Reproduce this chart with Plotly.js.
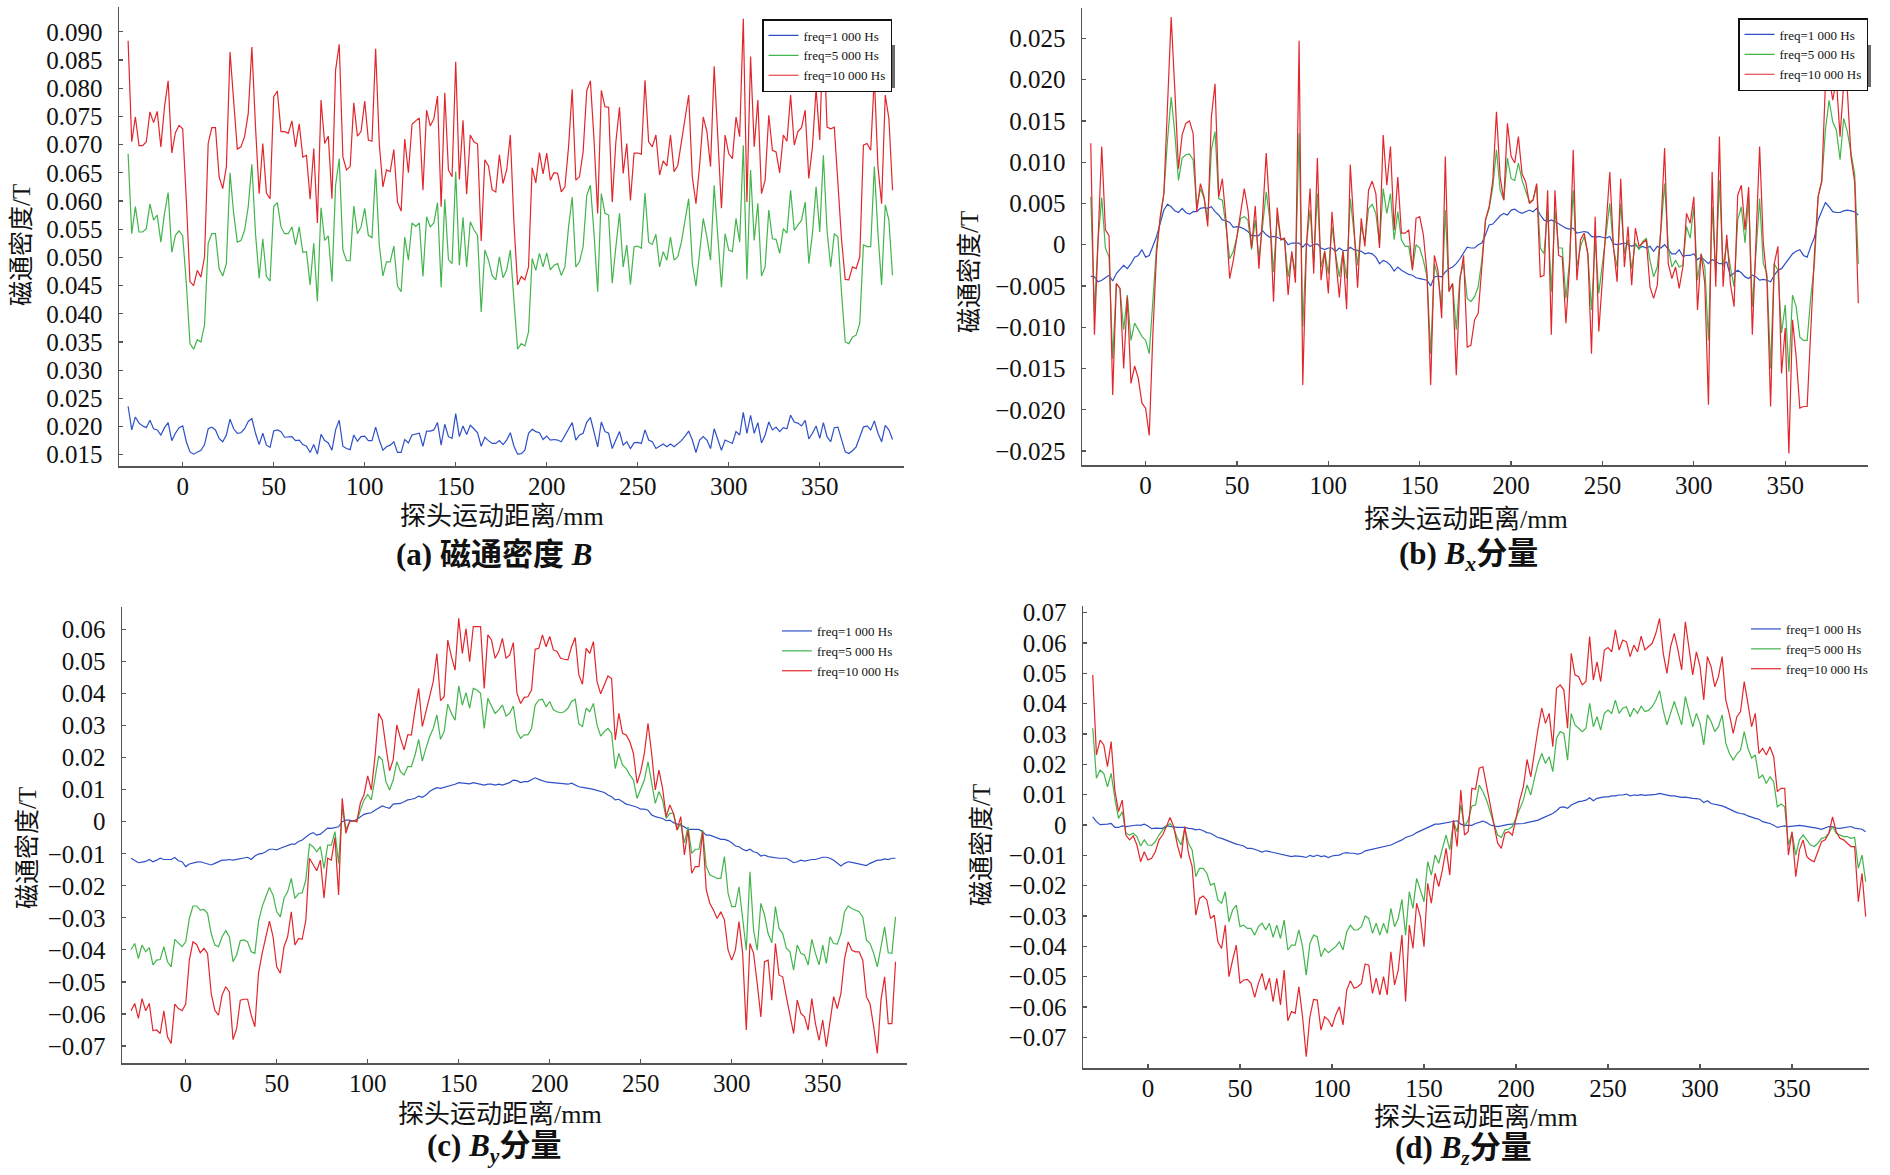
<!DOCTYPE html>
<html>
<head>
<meta charset="utf-8">
<script src="https://cdn.plot.ly/plotly-3.0.1.min.js"></script>
<style>html,body{margin:0;padding:0;background:#fff;}#chart{width:1890px;height:1175px;}</style>
</head>
<body>
<div id="chart"></div>
<script>
// probe travel distance (mm)
const xMm = [-30,-28,-26,-24,-22,-20,-18,-16,-14,-12,-10,-8,-6,-4,-2,0,2,4,6,8,10,12,14,16,18,20,22,24,26,28,30,32,34,36,38,40,42,44,46,48,50,52,54,56,58,60,62,64,66,68,70,72,74,76,78,80,82,84,86,88,90,92,94,96,98,100,102,104,106,108,110,112,114,116,118,120,122,124,126,128,130,132,134,136,138,140,142,144,146,148,150,152,154,156,158,160,162,164,166,168,170,172,174,176,178,180,182,184,186,188,190,192,194,196,198,200,202,204,206,208,210,212,214,216,218,220,222,224,226,228,230,232,234,236,238,240,242,244,246,248,250,252,254,256,258,260,262,264,266,268,270,272,274,276,278,280,282,284,286,288,290,292,294,296,298,300,302,304,306,308,310,312,314,316,318,320,322,324,326,328,330,332,334,336,338,340,342,344,346,348,350,352,354,356,358,360,362,364,366,368,370,372,374,376,378,380,382,384,386,388,390];

// (a) flux density B (T)
const aBlue = [0.0236,0.0194,0.0217,0.0206,0.0201,0.0198,0.0211,0.0196,0.0194,0.0185,
0.0198,0.0207,0.0175,0.0188,0.0198,0.0201,0.0173,0.0155,0.0151,0.0154,
0.0158,0.0168,0.0196,0.0199,0.0194,0.0179,0.0173,0.0185,0.0213,0.0196,
0.0188,0.0189,0.0196,0.0209,0.0214,0.0188,0.0168,0.0188,0.0167,0.0163,
0.0192,0.0194,0.0191,0.0181,0.0181,0.0182,0.0175,0.0176,0.0168,0.0165,
0.0154,0.0168,0.0151,0.0186,0.0175,0.0171,0.0158,0.0194,0.0211,0.0165,
0.0161,0.0159,0.0185,0.0174,0.0182,0.0183,0.0175,0.0175,0.0199,0.0176,
0.0158,0.0164,0.0167,0.0173,0.0154,0.0154,0.0177,0.0171,0.0185,0.0186,
0.0188,0.0165,0.0192,0.0192,0.0194,0.0207,0.0167,0.0204,0.0182,0.0179,
0.0223,0.0182,0.0201,0.0186,0.0202,0.0196,0.0189,0.0165,0.0181,0.0175,
0.0170,0.0170,0.0175,0.0168,0.0176,0.0189,0.0165,
0.0151,0.0152,0.0158,0.0188,0.0195,0.0191,0.0189,0.0177,0.0183,0.0176,
0.0177,0.0176,0.0173,0.0185,0.0195,0.0207,0.0176,0.0185,0.0188,0.0208,
0.0216,0.0191,0.0164,0.0208,0.0191,0.0188,0.0161,0.0176,0.0191,0.0167,
0.0173,0.0161,0.0171,0.0172,0.0170,0.0194,0.0176,0.0173,0.0161,0.0165,
0.0169,0.0164,0.0169,0.0164,0.0169,0.0175,0.0183,0.0192,0.0176,0.0154,
0.0176,0.0182,0.0176,0.0161,0.0196,0.0176,0.0158,0.0176,0.0173,0.0170,
0.0191,0.0185,0.0225,0.0188,0.0220,0.0188,0.0207,0.0171,0.0185,0.0208,
0.0194,0.0199,0.0191,0.0198,0.0196,0.0220,0.0208,0.0206,0.0201,0.0211,
0.0178,0.0188,0.0201,0.0179,0.0207,0.0182,0.0173,0.0198,0.0199,0.0176,
0.0155,0.0152,0.0157,0.0164,0.0183,0.0199,0.0201,0.0194,0.0210,0.0188,
0.0173,0.0202,0.0194,0.0177];
const aGreen = [0.0684,0.0542,0.0590,0.0545,0.0545,0.0551,0.0595,0.0566,0.0575,0.0527,
0.0578,0.0615,0.0509,0.0539,0.0547,0.0538,0.0454,0.0347,0.0337,0.0354,
0.0350,0.0380,0.0525,0.0542,0.0542,0.0480,0.0467,0.0489,0.0650,0.0578,
0.0527,0.0530,0.0548,0.0590,0.0665,0.0542,0.0463,0.0533,0.0466,0.0458,
0.0590,0.0597,0.0554,0.0542,0.0542,0.0554,0.0522,0.0554,0.0509,0.0510,
0.0451,0.0525,0.0422,0.0588,0.0530,0.0538,0.0457,0.0628,0.0675,0.0513,
0.0494,0.0494,0.0591,0.0542,0.0554,0.0587,0.0539,0.0535,0.0656,0.0522,
0.0467,0.0492,0.0492,0.0520,0.0449,0.0439,0.0536,0.0495,0.0561,0.0555,
0.0561,0.0466,0.0572,0.0554,0.0561,0.0597,0.0447,0.0603,0.0496,0.0489,
0.0652,0.0486,0.0571,0.0483,0.0563,0.0549,0.0539,0.0403,0.0513,0.0495,
0.0468,0.0460,0.0501,0.0464,0.0478,0.0513,0.0424,
0.0337,0.0347,0.0343,0.0368,0.0498,0.0477,0.0507,0.0483,0.0508,0.0478,
0.0486,0.0489,0.0468,0.0483,0.0554,0.0607,0.0483,0.0492,0.0519,0.0610,
0.0628,0.0542,0.0439,0.0613,0.0578,0.0575,0.0454,0.0519,0.0578,0.0483,
0.0522,0.0452,0.0519,0.0520,0.0516,0.0614,0.0527,0.0523,0.0541,0.0483,
0.0510,0.0495,0.0536,0.0495,0.0501,0.0527,0.0566,0.0604,0.0489,0.0449,
0.0508,0.0569,0.0536,0.0495,0.0628,0.0542,0.0447,0.0542,0.0513,0.0510,
0.0569,0.0527,0.0699,0.0461,0.0655,0.0530,0.0596,0.0467,0.0483,0.0584,
0.0533,0.0532,0.0507,0.0551,0.0543,0.0619,0.0548,0.0557,0.0566,0.0598,
0.0489,0.0542,0.0625,0.0545,0.0681,0.0548,0.0483,0.0542,0.0536,0.0436,
0.0350,0.0347,0.0359,0.0362,0.0383,0.0522,0.0519,0.0519,0.0661,0.0542,
0.0451,0.0593,0.0566,0.0468];
const aRed = [0.0884,0.0705,0.0749,0.0698,0.0698,0.0705,0.0758,0.0739,0.0759,0.0696,
0.0767,0.0813,0.0685,0.0721,0.0734,0.0728,0.0601,0.0457,0.0450,0.0477,
0.0465,0.0501,0.0702,0.0730,0.0730,0.0643,0.0622,0.0661,0.0864,0.0779,
0.0692,0.0696,0.0714,0.0755,0.0873,0.0731,0.0613,0.0702,0.0614,0.0604,
0.0785,0.0795,0.0723,0.0723,0.0720,0.0742,0.0696,0.0737,0.0678,0.0681,
0.0603,0.0693,0.0561,0.0779,0.0702,0.0715,0.0604,0.0832,0.0878,0.0678,
0.0655,0.0661,0.0774,0.0715,0.0723,0.0777,0.0708,0.0706,0.0870,0.0702,
0.0625,0.0655,0.0652,0.0691,0.0598,0.0582,0.0710,0.0650,0.0736,0.0742,
0.0747,0.0619,0.0761,0.0733,0.0746,0.0786,0.0590,0.0792,0.0655,0.0643,
0.0847,0.0638,0.0743,0.0612,0.0717,0.0705,0.0701,0.0529,0.0673,0.0662,
0.0620,0.0616,0.0682,0.0631,0.0655,0.0717,0.0560,
0.0451,0.0466,0.0460,0.0483,0.0659,0.0632,0.0686,0.0648,0.0685,0.0637,
0.0650,0.0649,0.0616,0.0625,0.0696,0.0798,0.0637,0.0643,0.0687,0.0796,
0.0813,0.0708,0.0578,0.0796,0.0767,0.0766,0.0598,0.0705,0.0766,0.0649,
0.0702,0.0601,0.0685,0.0685,0.0683,0.0814,0.0705,0.0696,0.0717,0.0646,
0.0671,0.0662,0.0717,0.0652,0.0663,0.0702,0.0746,0.0788,0.0643,0.0595,
0.0663,0.0749,0.0723,0.0661,0.0839,0.0714,0.0587,0.0717,0.0684,0.0675,
0.0749,0.0714,0.0923,0.0598,0.0856,0.0696,0.0779,0.0613,0.0637,0.0752,
0.0690,0.0687,0.0650,0.0717,0.0706,0.0788,0.0699,0.0723,0.0730,0.0761,
0.0640,0.0696,0.0800,0.0708,0.0915,0.0731,0.0728,0.0731,0.0637,0.0531,
0.0461,0.0460,0.0483,0.0480,0.0501,0.0699,0.0702,0.0690,0.0820,0.0660,
0.0595,0.0788,0.0746,0.0619];

// (b) Bx component (T)
const bBlue = [-0.0038,-0.0039,-0.0045,-0.0043,-0.0040,-0.0037,-0.0044,-0.0035,-0.0030,-0.0025,
-0.0029,-0.0023,-0.0015,-0.0013,-0.0006,-0.0015,-0.0013,-0.0002,0.0010,0.0026,
0.0042,0.0049,0.0046,0.0041,0.0039,0.0044,0.0039,0.0037,0.0040,0.0040,
0.0044,0.0045,0.0044,0.0046,0.0040,0.0036,0.0030,0.0029,0.0027,0.0021,
0.0022,0.0021,0.0019,0.0016,0.0011,0.0011,0.0011,0.0017,0.0012,0.0009,
0.0010,0.0009,0.0007,0.0006,0.0000,0.0002,0.0002,0.0002,-0.0003,0.0002,
-0.0002,0.0000,0.0001,-0.0004,-0.0006,-0.0004,-0.0004,-0.0008,-0.0004,-0.0007,
-0.0007,-0.0003,-0.0006,-0.0007,-0.0008,-0.0011,-0.0010,-0.0011,-0.0015,-0.0023,
-0.0019,-0.0021,-0.0025,-0.0032,-0.0027,-0.0031,-0.0034,-0.0036,-0.0037,-0.0040,
-0.0041,-0.0042,-0.0043,-0.0050,-0.0039,-0.0038,-0.0039,-0.0033,-0.0029,-0.0027,
-0.0023,-0.0017,-0.0010,-0.0003,-0.0004,-0.0004,0.0000,
0.0002,0.0012,0.0024,0.0025,0.0030,0.0035,0.0038,0.0036,0.0042,0.0043,
0.0040,0.0038,0.0040,0.0042,0.0040,0.0044,0.0036,0.0030,0.0028,0.0030,
0.0028,0.0025,0.0022,0.0020,0.0019,0.0020,0.0014,0.0015,0.0016,0.0015,
0.0010,0.0009,0.0010,0.0009,0.0008,0.0010,0.0001,0.0000,0.0001,0.0002,
0.0000,-0.0002,0.0000,-0.0004,-0.0002,-0.0004,-0.0002,-0.0008,-0.0002,-0.0004,
0.0000,-0.0006,-0.0011,-0.0011,-0.0006,-0.0014,-0.0013,-0.0013,-0.0011,-0.0018,
-0.0015,-0.0019,-0.0023,-0.0018,-0.0021,-0.0023,-0.0023,-0.0021,-0.0038,-0.0035,
-0.0031,-0.0034,-0.0039,-0.0041,-0.0037,-0.0039,-0.0043,-0.0042,-0.0043,-0.0045,
-0.0037,-0.0031,-0.0029,-0.0023,-0.0017,-0.0011,-0.0008,-0.0006,-0.0013,-0.0015,
-0.0002,0.0009,0.0030,0.0040,0.0051,0.0046,0.0040,0.0039,0.0039,0.0041,
0.0042,0.0041,0.0040,0.0036];
const bGreen = [0.0058,-0.0081,0.0006,0.0057,-0.0004,-0.0015,-0.0138,-0.0047,-0.0053,-0.0103,
-0.0061,-0.0116,-0.0095,-0.0103,-0.0111,-0.0116,-0.0132,-0.0067,-0.0002,0.0030,
0.0062,0.0127,0.0179,0.0135,0.0078,0.0105,0.0109,0.0110,0.0103,0.0046,
0.0068,0.0056,0.0030,0.0115,0.0137,0.0056,0.0054,0.0022,-0.0017,-0.0008,
0.0010,0.0032,0.0034,0.0030,-0.0006,0.0030,-0.0017,0.0022,0.0064,0.0030,
-0.0033,0.0034,0.0006,0.0006,-0.0039,-0.0011,-0.0033,0.0135,-0.0099,0.0000,
0.0042,-0.0021,0.0062,-0.0027,-0.0008,-0.0035,0.0022,-0.0011,-0.0039,-0.0008,
-0.0041,0.0056,0.0012,-0.0025,0.0022,0.0004,0.0044,0.0049,0.0038,0.0000,
0.0068,0.0038,0.0062,0.0006,0.0040,0.0006,-0.0002,-0.0002,-0.0029,0.0000,
-0.0004,-0.0019,-0.0039,-0.0132,-0.0023,-0.0039,-0.0075,0.0042,-0.0055,-0.0047,
-0.0103,-0.0039,-0.0023,-0.0065,-0.0069,-0.0063,-0.0051,
-0.0019,0.0030,0.0044,0.0070,0.0115,0.0066,0.0054,0.0105,0.0080,0.0078,
0.0099,0.0078,0.0066,0.0052,0.0054,0.0072,-0.0004,-0.0011,0.0042,-0.0057,
0.0042,-0.0004,-0.0004,-0.0065,-0.0019,0.0066,-0.0027,-0.0002,0.0010,-0.0011,
-0.0079,0.0006,-0.0059,-0.0023,0.0014,0.0050,-0.0004,-0.0027,0.0050,-0.0011,
0.0006,-0.0029,0.0002,-0.0006,0.0004,0.0008,-0.0019,-0.0039,-0.0027,0.0018,
0.0074,-0.0002,-0.0027,-0.0019,-0.0027,-0.0025,0.0022,0.0008,0.0046,-0.0043,
-0.0011,-0.0027,-0.0116,0.0046,-0.0035,0.0078,-0.0027,0.0002,-0.0027,-0.0051,
0.0030,0.0046,0.0002,0.0056,-0.0075,-0.0015,0.0056,-0.0023,-0.0035,-0.0150,
-0.0023,-0.0031,-0.0107,-0.0073,-0.0154,-0.0061,-0.0075,-0.0112,-0.0116,-0.0116,
-0.0063,-0.0023,0.0058,0.0076,0.0139,0.0175,0.0149,0.0139,0.0103,0.0153,
0.0137,0.0111,0.0086,-0.0023];
const bRed = [0.0123,-0.0109,0.0006,0.0119,0.0018,0.0011,-0.0182,-0.0047,-0.0053,-0.0150,
-0.0063,-0.0168,-0.0147,-0.0162,-0.0192,-0.0198,-0.0231,-0.0107,-0.0011,0.0034,
0.0062,0.0175,0.0276,0.0187,0.0092,0.0133,0.0147,0.0150,0.0135,0.0040,
0.0074,0.0058,0.0022,0.0155,0.0195,0.0058,0.0080,0.0030,-0.0041,-0.0019,
0.0012,0.0038,0.0068,0.0042,-0.0004,0.0047,-0.0029,0.0034,0.0111,0.0038,
-0.0069,0.0045,0.0006,0.0008,-0.0061,-0.0008,-0.0046,0.0247,-0.0170,-0.0002,
0.0068,-0.0035,0.0105,-0.0043,-0.0008,-0.0059,0.0040,-0.0015,-0.0064,-0.0008,
-0.0078,0.0097,0.0014,-0.0052,0.0032,-0.0002,0.0066,0.0077,0.0062,-0.0004,
0.0133,0.0072,0.0119,0.0018,0.0082,0.0014,0.0014,0.0018,-0.0031,0.0032,
0.0034,0.0012,-0.0035,-0.0170,-0.0013,-0.0031,-0.0089,0.0107,-0.0057,-0.0047,
-0.0158,-0.0043,-0.0013,-0.0124,-0.0122,-0.0091,-0.0083,
-0.0027,0.0030,0.0046,0.0078,0.0161,0.0082,0.0054,0.0147,0.0107,0.0099,
0.0131,0.0086,0.0076,0.0050,0.0054,0.0074,-0.0039,-0.0037,0.0066,-0.0109,
0.0066,-0.0013,-0.0015,-0.0095,-0.0027,0.0115,-0.0043,0.0006,0.0014,-0.0011,
-0.0132,0.0034,-0.0105,-0.0039,0.0022,0.0088,-0.0002,-0.0045,0.0080,-0.0027,
0.0022,-0.0049,0.0020,-0.0002,0.0002,0.0006,-0.0051,-0.0065,-0.0049,0.0022,
0.0117,-0.0023,-0.0041,-0.0027,-0.0053,-0.0027,0.0038,0.0026,0.0058,-0.0079,
-0.0011,-0.0047,-0.0194,0.0088,-0.0051,0.0131,-0.0051,0.0012,-0.0047,-0.0075,
0.0060,0.0072,0.0018,0.0070,-0.0109,0.0006,0.0119,0.0002,-0.0043,-0.0196,
-0.0023,-0.0002,-0.0156,-0.0101,-0.0253,-0.0091,-0.0136,-0.0198,-0.0196,-0.0196,
-0.0107,-0.0011,0.0058,0.0078,0.0195,0.0205,0.0175,0.0200,0.0131,0.0195,
0.0187,0.0107,0.0076,-0.0071];

// (c) By component (T)
const cBlue = [-0.0114,-0.0120,-0.0128,-0.0126,-0.0124,-0.0118,-0.0125,-0.0120,-0.0114,-0.0118,
-0.0118,-0.0118,-0.0112,-0.0122,-0.0125,-0.0140,-0.0132,-0.0128,-0.0126,-0.0125,
-0.0128,-0.0132,-0.0135,-0.0130,-0.0125,-0.0120,-0.0120,-0.0118,-0.0120,-0.0118,
-0.0114,-0.0112,-0.0111,-0.0118,-0.0107,-0.0101,-0.0099,-0.0094,-0.0086,-0.0086,
-0.0088,-0.0083,-0.0078,-0.0073,-0.0070,-0.0070,-0.0062,-0.0057,-0.0049,-0.0039,
-0.0034,-0.0042,-0.0039,-0.0029,-0.0020,-0.0021,-0.0018,-0.0016,0.0000,0.0005,
0.0005,0.0002,0.0007,0.0016,0.0023,0.0026,0.0028,0.0036,0.0042,0.0049,
0.0045,0.0042,0.0055,0.0057,0.0057,0.0062,0.0068,0.0070,0.0073,0.0080,
0.0076,0.0083,0.0094,0.0101,0.0106,0.0104,0.0107,0.0109,0.0114,0.0117,
0.0122,0.0120,0.0120,0.0118,0.0122,0.0120,0.0118,0.0114,0.0117,0.0117,
0.0114,0.0117,0.0114,0.0118,0.0122,0.0130,0.0128,
0.0122,0.0125,0.0125,0.0130,0.0137,0.0132,0.0127,0.0124,0.0123,0.0122,
0.0120,0.0118,0.0118,0.0117,0.0120,0.0114,0.0109,0.0107,0.0104,0.0103,
0.0101,0.0097,0.0094,0.0091,0.0083,0.0078,0.0068,0.0070,0.0062,0.0055,
0.0052,0.0049,0.0045,0.0039,0.0039,0.0036,0.0021,0.0016,0.0014,0.0010,
0.0003,0.0005,-0.0003,-0.0007,-0.0010,-0.0016,-0.0024,-0.0024,-0.0026,-0.0024,
-0.0031,-0.0042,-0.0042,-0.0047,-0.0052,-0.0055,-0.0055,-0.0059,-0.0066,-0.0076,
-0.0078,-0.0086,-0.0091,-0.0086,-0.0094,-0.0097,-0.0107,-0.0104,-0.0109,-0.0111,
-0.0114,-0.0114,-0.0114,-0.0114,-0.0120,-0.0128,-0.0125,-0.0120,-0.0123,-0.0120,
-0.0118,-0.0118,-0.0114,-0.0111,-0.0111,-0.0114,-0.0120,-0.0130,-0.0138,-0.0130,
-0.0125,-0.0127,-0.0130,-0.0132,-0.0135,-0.0137,-0.0130,-0.0125,-0.0120,-0.0120,
-0.0116,-0.0118,-0.0114,-0.0114];
const cGreen = [-0.0399,-0.0380,-0.0427,-0.0385,-0.0406,-0.0393,-0.0447,-0.0432,-0.0430,-0.0390,
-0.0437,-0.0453,-0.0367,-0.0380,-0.0390,-0.0375,-0.0302,-0.0263,-0.0263,-0.0276,
-0.0274,-0.0286,-0.0349,-0.0385,-0.0390,-0.0359,-0.0340,-0.0359,-0.0437,-0.0416,
-0.0371,-0.0369,-0.0375,-0.0406,-0.0411,-0.0312,-0.0265,-0.0234,-0.0205,-0.0229,
-0.0281,-0.0297,-0.0239,-0.0219,-0.0177,-0.0239,-0.0224,-0.0222,-0.0182,-0.0070,
-0.0078,-0.0094,-0.0078,-0.0146,-0.0073,-0.0073,-0.0031,-0.0130,0.0042,-0.0024,
0.0000,0.0003,0.0000,0.0036,0.0068,0.0085,0.0068,0.0135,0.0205,0.0193,
0.0125,0.0099,0.0130,0.0187,0.0156,0.0146,0.0172,0.0172,0.0208,0.0257,
0.0189,0.0229,0.0265,0.0291,0.0333,0.0257,0.0281,0.0367,0.0338,0.0317,
0.0424,0.0364,0.0403,0.0354,0.0416,0.0411,0.0401,0.0291,0.0385,0.0361,
0.0338,0.0349,0.0364,0.0330,0.0338,0.0361,0.0281,
0.0260,0.0271,0.0271,0.0291,0.0364,0.0380,0.0382,0.0359,0.0375,0.0349,
0.0343,0.0340,0.0343,0.0354,0.0375,0.0382,0.0305,0.0297,0.0354,0.0343,
0.0369,0.0302,0.0267,0.0281,0.0291,0.0276,0.0166,0.0213,0.0177,0.0166,
0.0146,0.0130,0.0073,0.0099,0.0130,0.0187,0.0125,0.0057,0.0094,0.0068,
0.0010,0.0026,0.0026,-0.0026,-0.0005,-0.0066,-0.0016,-0.0099,-0.0086,-0.0086,
-0.0026,-0.0140,-0.0166,-0.0172,-0.0177,-0.0177,-0.0109,-0.0224,-0.0265,-0.0265,
-0.0203,-0.0302,-0.0401,-0.0156,-0.0338,-0.0401,-0.0255,-0.0291,-0.0349,-0.0378,
-0.0265,-0.0333,-0.0349,-0.0395,-0.0406,-0.0463,-0.0385,-0.0411,-0.0416,-0.0447,
-0.0367,-0.0411,-0.0447,-0.0385,-0.0442,-0.0359,-0.0380,-0.0382,-0.0349,-0.0281,
-0.0263,-0.0271,-0.0276,-0.0281,-0.0297,-0.0369,-0.0380,-0.0411,-0.0453,-0.0390,
-0.0328,-0.0409,-0.0411,-0.0297];
const cRed = [-0.0590,-0.0567,-0.0614,-0.0552,-0.0590,-0.0567,-0.0652,-0.0650,-0.0661,-0.0590,
-0.0671,-0.0692,-0.0569,-0.0583,-0.0590,-0.0569,-0.0432,-0.0375,-0.0383,-0.0409,
-0.0395,-0.0411,-0.0536,-0.0588,-0.0604,-0.0541,-0.0515,-0.0531,-0.0680,-0.0645,
-0.0557,-0.0554,-0.0554,-0.0604,-0.0640,-0.0473,-0.0411,-0.0359,-0.0310,-0.0359,
-0.0453,-0.0473,-0.0390,-0.0359,-0.0281,-0.0385,-0.0364,-0.0367,-0.0307,-0.0114,
-0.0135,-0.0153,-0.0120,-0.0239,-0.0114,-0.0120,-0.0049,-0.0229,0.0073,-0.0036,
0.0000,0.0003,0.0000,0.0059,0.0085,0.0143,0.0099,0.0203,0.0338,0.0317,
0.0234,0.0159,0.0193,0.0302,0.0260,0.0224,0.0271,0.0271,0.0349,0.0416,
0.0297,0.0343,0.0388,0.0437,0.0525,0.0378,0.0390,0.0567,0.0515,0.0473,
0.0635,0.0525,0.0603,0.0499,0.0609,0.0609,0.0609,0.0416,0.0583,0.0567,
0.0510,0.0531,0.0572,0.0510,0.0520,0.0559,0.0401,
0.0369,0.0388,0.0390,0.0411,0.0538,0.0541,0.0583,0.0546,0.0578,0.0536,
0.0531,0.0510,0.0507,0.0505,0.0546,0.0575,0.0458,0.0429,0.0541,0.0525,
0.0562,0.0437,0.0399,0.0427,0.0455,0.0447,0.0255,0.0338,0.0276,0.0271,
0.0250,0.0213,0.0120,0.0156,0.0213,0.0307,0.0213,0.0099,0.0161,0.0104,
0.0016,0.0052,0.0026,-0.0026,0.0016,-0.0104,-0.0026,-0.0161,-0.0140,-0.0140,
-0.0031,-0.0213,-0.0255,-0.0276,-0.0302,-0.0281,-0.0307,-0.0401,-0.0432,-0.0401,
-0.0312,-0.0411,-0.0650,-0.0380,-0.0411,-0.0505,-0.0609,-0.0437,-0.0432,-0.0557,
-0.0380,-0.0479,-0.0484,-0.0546,-0.0609,-0.0661,-0.0557,-0.0598,-0.0609,-0.0650,
-0.0552,-0.0630,-0.0682,-0.0619,-0.0702,-0.0619,-0.0546,-0.0583,-0.0536,-0.0427,
-0.0375,-0.0401,-0.0406,-0.0406,-0.0432,-0.0546,-0.0569,-0.0640,-0.0723,-0.0557,
-0.0484,-0.0630,-0.0630,-0.0437];

// (d) Bz component (T)
const dBlue = [0.0027,0.0011,0.0001,0.0001,0.0003,0.0005,-0.0008,-0.0008,-0.0003,-0.0005,
-0.0003,-0.0001,0.0000,-0.0001,0.0003,-0.0003,-0.0012,-0.0010,-0.0010,-0.0011,
-0.0003,-0.0005,-0.0008,-0.0008,-0.0008,-0.0008,-0.0011,-0.0012,-0.0016,-0.0014,
-0.0019,-0.0025,-0.0027,-0.0033,-0.0041,-0.0044,-0.0049,-0.0052,-0.0058,-0.0063,
-0.0066,-0.0069,-0.0077,-0.0077,-0.0080,-0.0085,-0.0089,-0.0085,-0.0088,-0.0091,
-0.0093,-0.0096,-0.0099,-0.0102,-0.0104,-0.0102,-0.0102,-0.0104,-0.0107,-0.0100,
-0.0104,-0.0099,-0.0104,-0.0102,-0.0107,-0.0102,-0.0100,-0.0099,-0.0093,-0.0091,
-0.0093,-0.0093,-0.0096,-0.0093,-0.0085,-0.0082,-0.0080,-0.0077,-0.0074,-0.0071,
-0.0069,-0.0066,-0.0060,-0.0055,-0.0049,-0.0041,-0.0036,-0.0033,-0.0025,-0.0019,
-0.0014,-0.0008,-0.0001,0.0003,0.0003,0.0005,0.0008,0.0011,0.0012,0.0014,
0.0003,-0.0001,-0.0001,-0.0001,0.0005,0.0010,
0.0013,0.0008,0.0000,-0.0003,-0.0005,-0.0003,0.0000,0.0002,0.0003,0.0003,
0.0004,0.0005,0.0008,0.0010,0.0012,0.0016,0.0022,0.0027,0.0033,0.0038,
0.0047,0.0058,0.0060,0.0055,0.0066,0.0071,0.0077,0.0079,0.0082,0.0090,
0.0080,0.0088,0.0091,0.0093,0.0093,0.0096,0.0096,0.0099,0.0099,0.0102,
0.0096,0.0099,0.0098,0.0100,0.0098,0.0099,0.0099,0.0101,0.0104,0.0101,
0.0098,0.0096,0.0096,0.0093,0.0091,0.0092,0.0089,0.0088,0.0087,0.0085,
0.0074,0.0080,0.0071,0.0069,0.0066,0.0063,0.0058,0.0052,0.0045,0.0041,
0.0038,0.0036,0.0030,0.0025,0.0022,0.0019,0.0011,0.0008,0.0005,-0.0001,
-0.0008,-0.0005,-0.0003,-0.0005,-0.0003,-0.0001,-0.0001,-0.0003,-0.0005,-0.0005,
-0.0008,-0.0011,-0.0014,-0.0010,-0.0005,-0.0005,-0.0010,-0.0011,-0.0009,-0.0005,
-0.0005,-0.0010,-0.0012,-0.0014,-0.0022];
const dGreen = [0.0319,0.0154,0.0181,0.0170,0.0126,0.0170,0.0088,0.0022,0.0044,-0.0027,
-0.0033,-0.0027,-0.0038,-0.0069,-0.0049,-0.0066,-0.0067,-0.0055,-0.0033,-0.0016,
-0.0005,0.0005,-0.0011,-0.0044,-0.0066,-0.0011,-0.0060,-0.0082,-0.0170,-0.0143,
-0.0143,-0.0159,-0.0198,-0.0192,-0.0247,-0.0258,-0.0220,-0.0319,-0.0280,-0.0264,
-0.0335,-0.0330,-0.0341,-0.0341,-0.0363,-0.0335,-0.0324,-0.0346,-0.0324,-0.0370,
-0.0330,-0.0374,-0.0313,-0.0412,-0.0396,-0.0396,-0.0346,-0.0401,-0.0495,-0.0390,
-0.0363,-0.0368,-0.0434,-0.0407,-0.0421,-0.0412,-0.0401,-0.0385,-0.0412,-0.0352,
-0.0330,-0.0346,-0.0346,-0.0335,-0.0300,-0.0308,-0.0357,-0.0324,-0.0363,-0.0324,
-0.0357,-0.0275,-0.0335,-0.0308,-0.0245,-0.0363,-0.0220,-0.0275,-0.0176,-0.0214,
-0.0253,-0.0121,-0.0165,-0.0099,-0.0126,-0.0077,-0.0033,-0.0082,0.0011,-0.0022,
0.0066,-0.0005,0.0016,0.0063,0.0066,0.0132,
0.0110,0.0082,0.0038,0.0003,-0.0033,-0.0041,-0.0016,-0.0014,-0.0005,0.0022,
0.0055,0.0082,0.0132,0.0099,0.0154,0.0203,0.0236,0.0203,0.0225,0.0176,
0.0286,0.0308,0.0302,0.0214,0.0368,0.0330,0.0319,0.0308,0.0319,0.0401,
0.0324,0.0357,0.0313,0.0368,0.0379,0.0368,0.0412,0.0368,0.0385,0.0390,
0.0357,0.0385,0.0368,0.0392,0.0374,0.0378,0.0390,0.0412,0.0443,0.0379,
0.0330,0.0368,0.0407,0.0368,0.0330,0.0423,0.0374,0.0324,0.0368,0.0335,
0.0264,0.0363,0.0341,0.0308,0.0324,0.0363,0.0269,0.0236,0.0214,0.0234,
0.0247,0.0308,0.0253,0.0220,0.0231,0.0154,0.0165,0.0137,0.0159,0.0143,
0.0060,0.0069,0.0060,-0.0066,-0.0027,-0.0099,-0.0049,-0.0033,-0.0049,-0.0066,
-0.0071,-0.0060,-0.0044,-0.0041,-0.0027,-0.0005,-0.0027,-0.0033,-0.0038,-0.0038,
-0.0044,-0.0041,-0.0143,-0.0099,-0.0187];
const dRed = [0.0495,0.0231,0.0280,0.0264,0.0192,0.0275,0.0115,0.0044,0.0082,-0.0033,
-0.0049,-0.0036,-0.0066,-0.0121,-0.0088,-0.0115,-0.0110,-0.0088,-0.0049,-0.0033,
-0.0005,0.0025,-0.0005,-0.0066,-0.0110,-0.0005,-0.0093,-0.0137,-0.0297,-0.0242,
-0.0234,-0.0247,-0.0308,-0.0297,-0.0385,-0.0407,-0.0330,-0.0500,-0.0445,-0.0396,
-0.0522,-0.0511,-0.0509,-0.0522,-0.0568,-0.0522,-0.0489,-0.0544,-0.0505,-0.0582,
-0.0505,-0.0593,-0.0478,-0.0645,-0.0615,-0.0621,-0.0533,-0.0632,-0.0764,-0.0632,
-0.0575,-0.0577,-0.0676,-0.0632,-0.0643,-0.0665,-0.0626,-0.0599,-0.0659,-0.0544,
-0.0513,-0.0538,-0.0533,-0.0522,-0.0458,-0.0462,-0.0555,-0.0505,-0.0560,-0.0500,
-0.0560,-0.0418,-0.0527,-0.0478,-0.0363,-0.0582,-0.0330,-0.0407,-0.0258,-0.0302,
-0.0401,-0.0192,-0.0258,-0.0159,-0.0203,-0.0148,-0.0077,-0.0165,0.0016,-0.0071,
0.0115,-0.0033,-0.0022,0.0121,0.0118,0.0187,
0.0192,0.0126,0.0060,-0.0005,-0.0060,-0.0077,-0.0027,-0.0022,-0.0033,0.0022,
0.0082,0.0126,0.0216,0.0159,0.0242,0.0319,0.0385,0.0335,0.0368,0.0258,
0.0451,0.0462,0.0445,0.0319,0.0566,0.0495,0.0489,0.0462,0.0473,0.0621,
0.0478,0.0538,0.0473,0.0577,0.0585,0.0571,0.0643,0.0577,0.0610,0.0604,
0.0555,0.0593,0.0571,0.0623,0.0577,0.0588,0.0599,0.0632,0.0681,0.0566,
0.0500,0.0588,0.0632,0.0577,0.0511,0.0670,0.0582,0.0495,0.0571,0.0522,
0.0412,0.0555,0.0522,0.0456,0.0489,0.0555,0.0412,0.0363,0.0302,0.0357,
0.0374,0.0473,0.0401,0.0324,0.0368,0.0236,0.0253,0.0231,0.0258,0.0225,
0.0110,0.0121,0.0121,-0.0099,-0.0022,-0.0170,-0.0082,-0.0049,-0.0104,-0.0115,
-0.0121,-0.0088,-0.0055,-0.0049,-0.0027,0.0027,-0.0022,-0.0044,-0.0049,-0.0060,
-0.0071,-0.0071,-0.0253,-0.0159,-0.0302];

const seriesNames = ['freq=1 000 Hs', 'freq=5 000 Hs', 'freq=10 000 Hs'];

const xTickVals = [0, 50, 100, 150, 200, 250, 300, 350];
const xTickText = ['0', '50', '100', '150', '200', '250', '300', '350'];
const aTickVals = [0.015,0.020,0.025,0.030,0.035,0.040,0.045,0.050,0.055,0.060,0.065,0.070,0.075,0.080,0.085,0.090];
const aTickText = ['0.015','0.020','0.025','0.030','0.035','0.040','0.045','0.050','0.055','0.060','0.065','0.070','0.075','0.080','0.085','0.090'];
const bTickVals = [-0.025,-0.020,-0.015,-0.010,-0.005,0,0.005,0.010,0.015,0.020,0.025];
const bTickText = ['\u22120.025','\u22120.020','\u22120.015','\u22120.010','\u22120.005','0','0.005','0.010','0.015','0.020','0.025'];
const cTickVals = [-0.07,-0.06,-0.05,-0.04,-0.03,-0.02,-0.01,0,0.01,0.02,0.03,0.04,0.05,0.06];
const cTickText = ['\u22120.07','\u22120.06','\u22120.05','\u22120.04','\u22120.03','\u22120.02','\u22120.01','0','0.01','0.02','0.03','0.04','0.05','0.06'];
const dTickVals = [-0.07,-0.06,-0.05,-0.04,-0.03,-0.02,-0.01,0,0.01,0.02,0.03,0.04,0.05,0.06,0.07];
const dTickText = ['\u22120.07','\u22120.06','\u22120.05','\u22120.04','\u22120.03','\u22120.02','\u22120.01','0','0.01','0.02','0.03','0.04','0.05','0.06','0.07'];

const COLORS = ['#2e50c6', '#42b54c', '#e2262c'];
const SERIF = 'Liberation Serif, DejaVu Serif, Noto Sans CJK SC, serif';
const TXT = '#111111';

const panels = [
  {sfx: '', leg: 'legend', ys: [aBlue, aGreen, aRed]},
  {sfx: '2', leg: 'legend2', ys: [bBlue, bGreen, bRed]},
  {sfx: '3', leg: 'legend3', ys: [cBlue, cGreen, cRed]},
  {sfx: '4', leg: 'legend4', ys: [dBlue, dGreen, dRed]}
];

const data = [];
panels.forEach(p => {
  p.ys.forEach((ys, i) => {
    data.push({
      type: 'scatter', mode: 'lines',
      x: xMm, y: ys,
      xaxis: 'x' + p.sfx, yaxis: 'y' + p.sfx,
      name: seriesNames[i], legend: p.leg,
      line: {color: COLORS[i], width: 1.2},
      hoverinfo: 'skip'
    });
  });
});

function W(px) { return px / 1890; }
function H(py) { return 1 - py / 1175; }

function xAxis(dom, range, anchor) {
  return {
    domain: dom, range: range, anchor: anchor,
    showline: true, linecolor: '#555', linewidth: 1.5, mirror: false,
    showgrid: false, zeroline: false,
    ticks: 'inside', ticklen: 4, tickwidth: 1.2, tickcolor: '#555',
    tickvals: xTickVals, ticktext: xTickText,
    tickfont: {family: SERIF, size: 25, color: TXT},
    ticklabelstandoff: -3
  };
}
function yAxis(dom, range, anchor, vals, txt) {
  return {
    domain: dom, range: range, anchor: anchor,
    showline: true, linecolor: '#555', linewidth: 1.5, mirror: false,
    showgrid: false, zeroline: false,
    ticks: 'inside', ticklen: 4, tickwidth: 1.2, tickcolor: '#555',
    tickvals: vals, ticktext: txt,
    tickfont: {family: SERIF, size: 25, color: TXT},
    ticklabelstandoff: 10
  };
}

const legBase = {
  font: {family: SERIF, size: 13, color: TXT},
  bgcolor: 'rgba(255,255,255,1)',
  itemwidth: 30, tracegroupgap: 0, traceorder: 'normal'
};

function ann(text, x, y, size, angle) {
  return {text: text, xref: 'paper', yref: 'paper', x: x, y: y,
    xanchor: 'center', yanchor: 'middle', showarrow: false,
    textangle: angle || 0,
    font: {family: SERIF, size: size, color: TXT}};
}

function shadow(x0, y0, x1, y1) {
  return {type: 'rect', xref: 'paper', yref: 'paper', layer: 'above',
    x0: W(x0), x1: W(x1), y0: H(y1), y1: H(y0),
    fillcolor: '#6a6a6a', line: {width: 0}};
}

const yTitle = '磁通密度/T';
const xTitle = '探头运动距离/mm';

const layout = {
  width: 1890, height: 1175,
  margin: {l: 0, r: 0, t: 0, b: 0},
  paper_bgcolor: '#ffffff', plot_bgcolor: '#ffffff',
  font: {family: SERIF, color: TXT},
  xaxis: xAxis([W(119), W(904)], [-35, 396.3], 'y'),
  yaxis: yAxis([H(466), H(7)], [0.0130, 0.0944], 'x', aTickVals, aTickText),
  xaxis2: xAxis([W(1082), W(1868)], [-34.8, 395.3], 'y2'),
  yaxis2: yAxis([H(465), H(8)], [-0.02669, 0.02868], 'x2', bTickVals, bTickText),
  xaxis3: xAxis([W(122), W(907)], [-35, 396.3], 'y3'),
  yaxis3: yAxis([H(1063), H(607)], [-0.0753, 0.0670], 'x3', cTickVals, cTickText),
  xaxis4: xAxis([W(1083), W(1869)], [-35.3, 391.8], 'y4'),
  yaxis4: yAxis([H(1068), H(606)], [-0.0801, 0.0722], 'x4', dTickVals, dTickText),
  showlegend: true,
  legend: Object.assign({}, legBase, {x: W(892), y: H(19), xanchor: 'right', yanchor: 'top', bordercolor: '#111', borderwidth: 1.5}),
  legend2: Object.assign({}, legBase, {x: W(1868), y: H(18), xanchor: 'right', yanchor: 'top', bordercolor: '#111', borderwidth: 1.5}),
  legend3: Object.assign({}, legBase, {x: W(777), y: H(616), xanchor: 'left', yanchor: 'top', borderwidth: 0, bgcolor: 'rgba(255,255,255,0)'}),
  legend4: Object.assign({}, legBase, {x: W(1746), y: H(614), xanchor: 'left', yanchor: 'top', borderwidth: 0, bgcolor: 'rgba(255,255,255,0)'}),
  shapes: [
    shadow(820, 45, 895, 88),
    shadow(1800, 45, 1871, 87)
  ],
  annotations: [
    ann(yTitle, W(22), H(245), 25, -90),
    ann(yTitle, W(969), H(272), 25, -90),
    ann(yTitle, W(27), H(848), 25, -90),
    ann(yTitle, W(981), H(845), 25, -90),
    ann(xTitle, W(502), H(517), 26),
    ann(xTitle, W(1466), H(519), 26),
    ann(xTitle, W(500), H(1114), 26),
    ann(xTitle, W(1476), H(1117), 26),
    ann('<b>(a) 磁通密度 <i>B</i></b>', W(494), H(554), 31),
    ann('<b>(b) <i>B<sub>x</sub></i>分量</b>', W(1468), H(556), 31),
    ann('<b>(c) <i>B<sub>y</sub></i>分量</b>', W(494), H(1148), 31),
    ann('<b>(d) <i>B<sub>z</sub></i>分量</b>', W(1463), H(1150), 31)
  ]
};

Plotly.newPlot('chart', data, layout, {staticPlot: true, displayModeBar: false});
</script>
</body>
</html>
